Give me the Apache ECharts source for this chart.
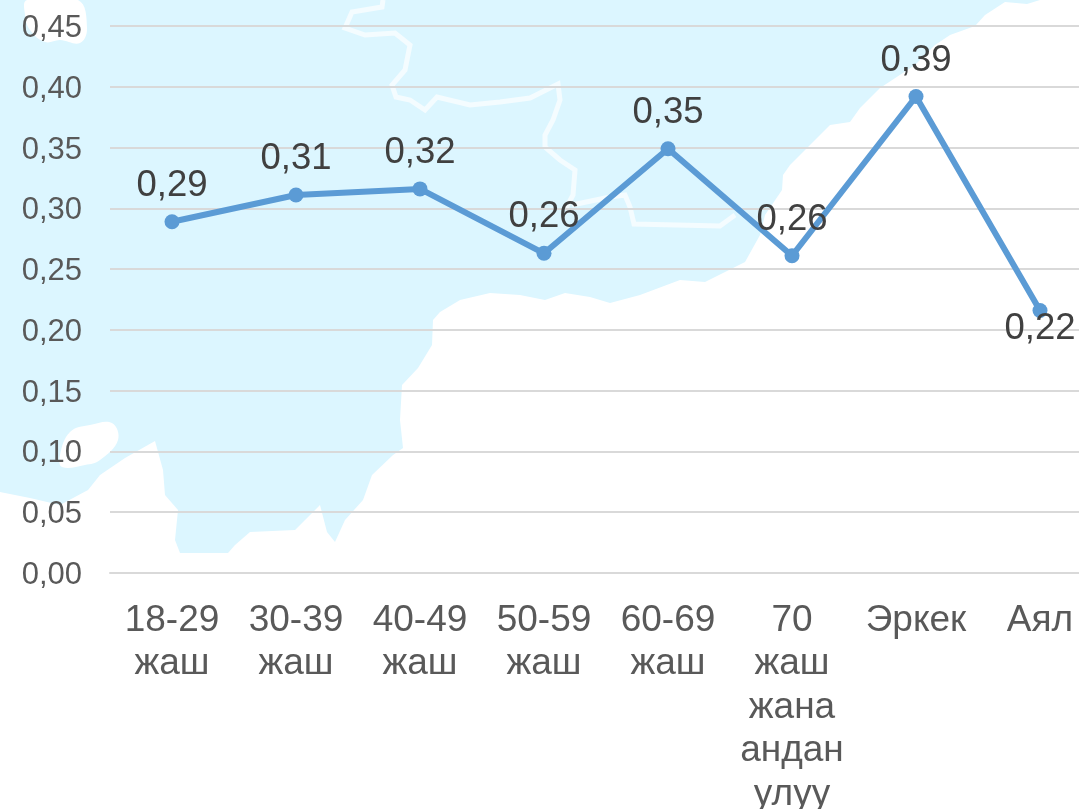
<!DOCTYPE html>
<html><head><meta charset="utf-8">
<style>html,body{margin:0;padding:0;background:#fff}#c{width:1079px;height:809px}</style>
<script src="https://cdn.jsdelivr.net/npm/echarts@6/dist/echarts.min.js"></script>
</head><body><div id="c"></div>
<script>
const categories = ['18-29\nжаш','30-39\nжаш','40-49\nжаш','50-59\nжаш','60-69\nжаш','70\nжаш\nжана\nандан\nулуу','Эркек','Аял'];
const values = [0.289,0.311,0.316,0.263,0.349,0.261,0.392,0.216];
const yTicks = {min:0,max:0.45,interval:0.05};
const fmt = v => v.toFixed(2).replace('.', ',');

// decorative map silhouette behind the chart
const mapShape = [[1040,0],[1027,4],[1005,2],[985,15],[975,26],[950,35],[935,45],[915,65],[880,88],[860,108],[850,122],[830,125],[810,145],[790,165],[783,175],[782,190],[765,215],[760,235],[745,262],[725,272],[705,282],[680,280],[640,295],[610,303],[590,297],[565,293],[545,300],[520,295],[490,293],[460,300],[440,312],[433,320],[432,345],[418,368],[402,385],[400,420],[403,448],[393,455],[372,475],[363,500],[345,520],[335,542],[327,532],[320,505],[305,520],[295,530],[250,532],[235,545],[228,553],[180,553],[175,540],[178,510],[165,495],[163,470],[155,441],[125,458],[100,475],[88,490],[60,505],[30,498],[0,492],[0,0]];
const holeA = [[27,0],[25,15],[30,30],[45,42],[60,40],[80,43],[87,28],[78,0]];
const holeB = [[70,432],[90,425],[112,423],[118,440],[100,460],[85,465],[62,467],[60,455]];
const river1 = [[383,0],[382,7],[352,12],[345,28],[365,35],[395,33],[410,45],[405,70],[392,85],[396,97],[410,100],[425,110],[437,97],[470,105],[500,102],[530,98],[558,84],[560,100],[553,120],[545,135],[545,147],[560,160],[575,170],[573,195],[565,210]];
const river2 = [[572,205],[610,197],[625,195],[630,207],[634,224],[720,226],[735,215]];
const bg = '#dcf6ff';

const chart = echarts.init(document.getElementById('c'));
chart.setOption({
  backgroundColor:'#fff',
  animation:false,
  graphic:[
    {type:'polygon',z:-10,silent:true,shape:{points:mapShape},style:{fill:bg}},
    {type:'polygon',z:-9,silent:true,shape:{points:holeA,smooth:0.4},style:{fill:'#fff'}},
    {type:'polygon',z:-9,silent:true,shape:{points:holeB,smooth:0.4},style:{fill:'#fff'}},
    {type:'polyline',z:-9,silent:true,shape:{points:river1},style:{stroke:'#f4fcff',lineWidth:5,fill:null}},
    {type:'polyline',z:-9,silent:true,shape:{points:river2},style:{stroke:'#f4fcff',lineWidth:5,fill:null}}
  ],
  grid:{left:110,right:-23,top:26,bottom:236,containLabel:false,outerBoundsMode:'none'},
  xAxis:{type:'category',data:categories,boundaryGap:true,
    axisTick:{show:false},
    axisLine:{show:true,lineStyle:{color:'#d9d9d9',width:2}},
    axisLabel:{interval:0,hideOverlap:false,color:'#595959',fontFamily:'Liberation Sans',fontSize:37,lineHeight:43.5,margin:26,align:'center',verticalAlign:'top'}},
  yAxis:{type:'value',min:yTicks.min,max:yTicks.max,interval:yTicks.interval,
    axisLine:{show:false},axisTick:{show:false},
    splitLine:{show:true,lineStyle:{color:'#d9d9d9',width:2}},
    axisLabel:{formatter:v=>'{t|'+fmt(v)+'}',margin:28,align:'right',
      rich:{t:{color:'#595959',fontFamily:'Liberation Sans',fontSize:31,padding:[5,0,0,0]}}}},
  series:[{type:'line',data:values.map((v,i)=>i===values.length-1?{value:v,label:{position:'bottom',distance:-8}}:v),
    clip:false,
    symbol:'circle',symbolSize:15,showSymbol:true,
    lineStyle:{color:'#5b9bd5',width:6},itemStyle:{color:'#5b9bd5'},
    label:{show:true,position:'top',distance:10,formatter:p=>fmt(p.value),color:'#404040',fontFamily:'Liberation Sans',fontSize:36.5}}]
});
</script></body></html>
